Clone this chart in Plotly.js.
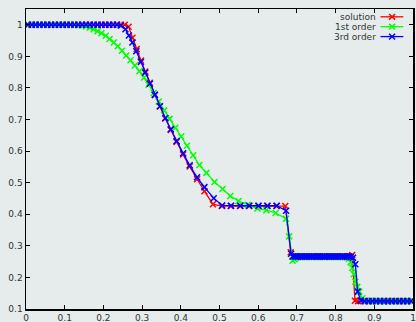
<!DOCTYPE html>
<html>
<head>
<meta charset="utf-8">
<script src="https://cdn.plot.ly/plotly-3.0.1.min.js"></script>
<style>
  html, body { margin: 0; padding: 0; background: #e5eceb; }
  #plot { width: 416px; height: 322px; }
</style>
</head>
<body>
<div id="plot"></div>
<script>
// Sod shock tube, density at t = 0.2 on a Lagrangian mesh

// exact solution, sampled at the cell centres
const xSolution = [
  0.005, 0.015, 0.025, 0.035, 0.045, 0.055, 0.065, 0.075, 0.085, 0.095,
  0.105, 0.115, 0.125, 0.135, 0.145, 0.155, 0.165, 0.175, 0.185, 0.195,
  0.205, 0.215, 0.225, 0.235, 0.245, 0.255,
  0.265, 0.275, 0.286, 0.297, 0.308, 0.320, 0.333, 0.346, 0.360, 0.374,
  0.389, 0.406, 0.423, 0.442, 0.461, 0.483,
  0.506, 0.529, 0.553, 0.576, 0.600, 0.623, 0.647, 0.670,
  0.684, 0.689, 0.694, 0.698, 0.703, 0.708, 0.712, 0.717, 0.722, 0.726,
  0.731, 0.736, 0.740, 0.745, 0.750, 0.755, 0.759, 0.764, 0.769, 0.773,
  0.778, 0.783, 0.787, 0.792, 0.797, 0.801, 0.806, 0.811, 0.816, 0.820,
  0.825, 0.830, 0.834, 0.839, 0.843,
  0.850, 0.858, 0.866, 0.875, 0.885, 0.895, 0.905, 0.915, 0.925, 0.935,
  0.945, 0.955, 0.965, 0.975, 0.985, 0.995
];
const ySolution = [
  1, 1, 1, 1, 1, 1, 1, 1, 1, 1,
  1, 1, 1, 1, 1, 1, 1, 1, 1, 1,
  1, 1, 1, 1, 1, 1,
  0.994, 0.959, 0.923, 0.887, 0.852, 0.816, 0.778, 0.741, 0.703, 0.667,
  0.629, 0.589, 0.551, 0.511, 0.473, 0.432,
  0.426, 0.426, 0.426, 0.426, 0.426, 0.426, 0.426, 0.426,
  0.280, 0.266, 0.266, 0.266, 0.266, 0.266, 0.266, 0.266, 0.266, 0.266,
  0.266, 0.266, 0.266, 0.266, 0.266, 0.266, 0.266, 0.266, 0.266, 0.266,
  0.266, 0.266, 0.266, 0.266, 0.266, 0.266, 0.266, 0.266, 0.266, 0.266,
  0.266, 0.266, 0.266, 0.266, 0.271,
  0.126, 0.125, 0.125, 0.125, 0.125, 0.125, 0.125, 0.125, 0.125, 0.125,
  0.125, 0.125, 0.125, 0.125, 0.125, 0.125
];

// first-order scheme
const xFirst = [
  0.005, 0.015, 0.025, 0.035, 0.045, 0.055, 0.065, 0.075, 0.085, 0.095,
  0.105, 0.115, 0.125, 0.135, 0.145, 0.155, 0.165, 0.175, 0.185, 0.195,
  0.206, 0.216, 0.227, 0.237, 0.248, 0.259, 0.270, 0.281, 0.293, 0.305,
  0.317, 0.330, 0.343, 0.357, 0.371, 0.386, 0.401, 0.416, 0.432, 0.448,
  0.466, 0.487, 0.508, 0.528, 0.549, 0.573, 0.598, 0.621, 0.645,
  0.672, 0.680, 0.689,
  0.694, 0.698, 0.703, 0.708, 0.712, 0.717, 0.722, 0.726, 0.731, 0.736,
  0.740, 0.745, 0.750, 0.755, 0.759, 0.764, 0.769, 0.773, 0.778, 0.783,
  0.787, 0.792, 0.797, 0.801, 0.806, 0.811, 0.816, 0.820, 0.825, 0.830,
  0.834, 0.839, 0.843, 0.847, 0.851, 0.856, 0.861, 0.869, 0.878, 0.888,
  0.898, 0.908, 0.918, 0.928, 0.938, 0.948, 0.958, 0.968, 0.978, 0.988,
  0.997
];
const yFirst = [
  1, 1, 1, 1, 1, 1, 1, 1, 1, 1,
  1, 1, 1, 0.999, 0.998, 0.995, 0.991, 0.986, 0.980, 0.973,
  0.965, 0.955, 0.944, 0.932, 0.918, 0.903, 0.888, 0.871, 0.853, 0.833,
  0.810, 0.784, 0.757, 0.729, 0.702, 0.674, 0.646, 0.617, 0.587, 0.556,
  0.531, 0.502, 0.480, 0.458, 0.442, 0.430, 0.418, 0.413, 0.404,
  0.386, 0.330, 0.253,
  0.258, 0.262, 0.264, 0.265, 0.265, 0.265, 0.265, 0.265, 0.265, 0.265,
  0.265, 0.265, 0.265, 0.265, 0.265, 0.265, 0.265, 0.265, 0.265, 0.265,
  0.265, 0.265, 0.265, 0.265, 0.265, 0.265, 0.265, 0.265, 0.264, 0.263,
  0.259, 0.248, 0.230, 0.210, 0.186, 0.170, 0.155, 0.134, 0.127, 0.125,
  0.125, 0.125, 0.125, 0.125, 0.125, 0.125, 0.125, 0.125, 0.125, 0.125,
  0.125
];

// third-order scheme
const xThird = [
  0.005, 0.015, 0.025, 0.035, 0.045, 0.055, 0.065, 0.075, 0.085, 0.095,
  0.105, 0.115, 0.125, 0.135, 0.145, 0.155, 0.165, 0.175, 0.185, 0.195,
  0.205, 0.215, 0.225, 0.235, 0.245, 0.257,
  0.266, 0.275, 0.285, 0.297, 0.308, 0.320, 0.333, 0.346, 0.360, 0.374,
  0.389, 0.406, 0.423, 0.442, 0.461, 0.485,
  0.507, 0.530, 0.554, 0.577, 0.601, 0.624, 0.648, 0.672,
  0.685, 0.689, 0.694, 0.698, 0.703, 0.708, 0.712, 0.717, 0.722, 0.726,
  0.731, 0.736, 0.740, 0.745, 0.750, 0.755, 0.759, 0.764, 0.769, 0.773,
  0.778, 0.783, 0.787, 0.792, 0.797, 0.801, 0.806, 0.811, 0.816, 0.820,
  0.825, 0.830, 0.834, 0.839, 0.845,
  0.851, 0.857, 0.865, 0.875, 0.885, 0.895, 0.905, 0.915, 0.925, 0.935,
  0.945, 0.955, 0.965, 0.975, 0.985, 0.995
];
const yThird = [
  1, 1, 1, 1, 1, 1, 1, 1, 1, 1,
  1, 1, 1, 1, 1, 1, 1, 1, 1, 1,
  1, 1, 1, 1, 0.998, 0.986,
  0.966, 0.944, 0.916, 0.882, 0.848, 0.813, 0.778, 0.742, 0.705, 0.669,
  0.632, 0.593, 0.555, 0.517, 0.486, 0.451,
  0.428, 0.427, 0.427, 0.427, 0.427, 0.427, 0.427, 0.411,
  0.275, 0.266, 0.266, 0.266, 0.266, 0.266, 0.266, 0.266, 0.266, 0.266,
  0.266, 0.266, 0.266, 0.266, 0.266, 0.266, 0.266, 0.266, 0.266, 0.266,
  0.266, 0.266, 0.266, 0.266, 0.266, 0.266, 0.266, 0.266, 0.266, 0.266,
  0.266, 0.266, 0.266, 0.265, 0.262,
  0.242, 0.155, 0.127, 0.125, 0.125, 0.125, 0.125, 0.125, 0.125, 0.125,
  0.125, 0.125, 0.125, 0.125, 0.125, 0.125
];

const seriesNames = ['solution', '1st order', '3rd order'];
const seriesColors = ['#ff0000', '#00ff00', '#0000ff'];
const seriesX = [xSolution, xFirst, xThird];
const seriesY = [ySolution, yFirst, yThird];

const xTicks = [0, 0.1, 0.2, 0.3, 0.4, 0.5, 0.6, 0.7, 0.8, 0.9, 1];
const yTicks = [0.1, 0.2, 0.3, 0.4, 0.5, 0.6, 0.7, 0.8, 0.9, 1];

const traces = seriesNames.map((name, i) => ({
  type: 'scatter',
  mode: 'lines+markers',
  name: name,
  x: seriesX[i],
  y: seriesY[i],
  line: { color: seriesColors[i], width: 1.3 },
  marker: {
    symbol: 'x-thin',
    size: 6,
    color: seriesColors[i],
    line: { color: seriesColors[i], width: 1.5 }
  },
  showlegend: false
}));

// key in the upper right corner: label, then a line sample with a cross
const shapes = [];
const annotations = [];
const keyTop = 0.974, keyStep = 0.033;
const sampleX0 = 0.916, sampleX1 = 0.975, sampleXm = 0.946;
const dx = 0.0078, dy = 0.0095;
seriesNames.forEach((name, i) => {
  const yk = keyTop - i * keyStep;
  shapes.push({
    type: 'line', xref: 'paper', yref: 'paper',
    x0: sampleX0, x1: sampleX1, y0: yk, y1: yk,
    line: { color: seriesColors[i], width: 1.3 }
  });
  shapes.push({
    type: 'path', xref: 'paper', yref: 'paper',
    path: `M ${sampleXm - dx},${yk - dy} L ${sampleXm + dx},${yk + dy} ` +
          `M ${sampleXm - dx},${yk + dy} L ${sampleXm + dx},${yk - dy}`,
    line: { color: seriesColors[i], width: 1.5 }
  });
  annotations.push({
    xref: 'paper', yref: 'paper', x: 0.909, y: yk,
    xanchor: 'right', yanchor: 'middle', showarrow: false,
    text: name,
    font: { family: 'DejaVu Sans', size: 9, color: '#333333' }
  });
});

const axisCommon = {
  showgrid: false,
  zeroline: false,
  showline: true,
  linecolor: '#000000',
  linewidth: 1.5,
  mirror: 'ticks',
  ticks: 'inside',
  ticklen: 4,
  tickwidth: 1,
  tickcolor: '#000000',
  tickfont: { family: 'DejaVu Sans', size: 9, color: '#333333' }
};

const layout = {
  width: 416,
  height: 322,
  margin: { l: 26, r: 3, t: 9, b: 13 },
  paper_bgcolor: '#e5eceb',
  plot_bgcolor: '#e5eceb',
  xaxis: Object.assign({}, axisCommon, {
    range: [0, 1],
    tickvals: xTicks,
    ticktext: xTicks.map(String)
  }),
  yaxis: Object.assign({}, axisCommon, {
    range: [0.1, 1.05],
    tickvals: yTicks,
    ticktext: yTicks.map(String)
  }),
  shapes: shapes,
  annotations: annotations,
  showlegend: false
};

Plotly.newPlot('plot', traces, layout, { displayModeBar: false, staticPlot: true });
</script>
</body>
</html>
